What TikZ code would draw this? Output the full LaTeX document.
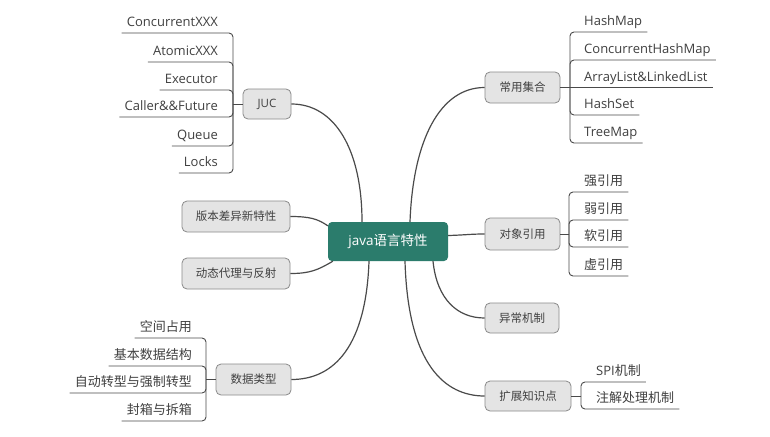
\documentclass[tikz,border=0pt]{standalone}
\usepackage{fontspec}
\setmainfont{Open Sans}
\newfontfamily\cjk{Noto Sans CJK SC}
\usetikzlibrary{calc}
\definecolor{rootfill}{HTML}{2B7C6C}
\definecolor{topicfill}{HTML}{E4E4E4}
\definecolor{topicborder}{HTML}{8A8A8A}
\definecolor{inkgray}{HTML}{404040}
\definecolor{linegray}{HTML}{4A4A4A}
\begin{document}
\begin{tikzpicture}[x=1pt,y=-1pt,
  root/.style={fill=rootfill, rounded corners=4pt, text=white,
    font=\fontsize{13.5}{15}\selectfont, minimum width=120pt, minimum height=39pt, inner sep=0pt},
  topic/.style={draw=topicborder, fill=topicfill, rounded corners=5pt, line width=0.8pt,
    text=inkgray, font=\fontsize{11.5}{13}\selectfont, inner sep=0pt, minimum height=31pt},
  leafL/.style={anchor=south east, inner xsep=5pt, inner ysep=3pt, text height=10pt,
    text depth=3pt, font=\fontsize{13}{15}\selectfont, text=inkgray},
  leafR/.style={leafL, anchor=south west},
  branch/.style={draw=linegray, line width=1.2pt},
  twig/.style={draw=linegray, line width=0.9pt, rounded corners=4pt}]

\fill[white] (0,0) rectangle (770,436);
\useasboundingbox (0,0) rectangle (770,436);

% central topic
\node[root] (c) at (388,241.5) {java{\cjk 语言特性}};

% main topics
\node[topic, minimum width=48pt, minimum height=30pt] (juc) at (267,104) {JUC};
\node[topic, minimum width=108pt] (ver) at (236,216.5) {\cjk 版本差异新特性};
\node[topic, minimum width=108pt] (dyn) at (236,273.5) {\cjk 动态代理与反射};
\node[topic, minimum width=75pt] (dt) at (253.5,379.5) {\cjk 数据类型};
\node[topic, minimum width=75pt] (col) at (522.5,87.5) {\cjk 常用集合};
\node[topic, minimum width=75pt, minimum height=32pt] (ref) at (522.5,234) {\cjk 对象引用};
\node[topic, minimum width=74pt, minimum height=30pt] (exc) at (522,318) {\cjk 异常机制};
\node[topic, minimum width=86pt, minimum height=30pt] (ext) at (528,396) {\cjk 扩展知识点};

% curved branches from the central topic
\draw[branch] ([xshift=-26pt]c.north) .. controls (362,150) and (335,104) .. (juc.east);
\draw[branch] ([yshift=-4pt]c.north west) .. controls (318,219) and (310,216.5) .. (ver.east);
\draw[branch] ([xshift=5pt]c.south west) .. controls (318,270) and (310,273.5) .. (dyn.east);
\draw[branch] ([xshift=-19pt]c.south) .. controls (366,345) and (335,379.5) .. (dt.east);
\draw[branch] ([xshift=22pt]c.north) .. controls (413,140) and (440,87.5) .. (col.west);
\draw[branch] ([yshift=6pt]c.east) .. controls (466,235) and (470,234) .. (ref.west);
\draw[branch] ([xshift=45pt]c.south) .. controls (437,300) and (458,318) .. (exc.west);
\draw[branch] ([xshift=17pt]c.south) .. controls (408,365) and (445,396) .. (ext.west);

% JUC
\coordinate (jb) at (233,104);
\draw[twig] (juc.west) -- (jb);
\node[leafL] (j1) at (223,33) {ConcurrentXXX};
\node[leafL] (j2) at (223,62) {AtomicXXX};
\node[leafL] (j3) at (223,90) {Executor};
\node[leafL] (j4) at (223,117) {Caller\&\&Future};
\node[leafL] (j5) at (223,146) {Queue};
\node[leafL] (j6) at (223,173) {Locks};
\foreach \n in {j1,j2,j3,j4,j5,j6}
  \draw[twig] (jb) -- (jb |- \n.south) -- (\n.south west);

% data types
\coordinate (db) at (206,379.5);
\draw[twig] (dt.west) -- (db);
\node[leafL] (d1) at (197,338) {\cjk 空间占用};
\node[leafL] (d2) at (197,366) {\cjk 基本数据结构};
\node[leafL] (d3) at (197,393) {\cjk 自动转型与强制转型};
\node[leafL] (d4) at (197,421) {\cjk 封箱与拆箱};
\foreach \n in {d1,d2,d3,d4}
  \draw[twig] (db) -- (db |- \n.south) -- (\n.south west);

% collections
\coordinate (cb) at (570,87.5);
\draw[twig] (col.east) -- (cb);
\node[leafR] (k1) at (579,32) {HashMap};
\node[leafR] (k2) at (579,60) {ConcurrentHashMap};
\node[leafR] (k3) at (579,87.5) {ArrayList\&LinkedList};
\node[leafR] (k4) at (579,115) {HashSet};
\node[leafR] (k5) at (579,143) {TreeMap};
\foreach \n in {k1,k2,k4,k5}
  \draw[twig] (cb) -- (cb |- \n.south) -- (\n.south east);
\draw[twig] (cb) -- (k3.south east);

% references
\coordinate (rb) at (569,234);
\draw[twig] (ref.east) -- (rb);
\node[leafR] (r1) at (579,192) {\cjk 强引用};
\node[leafR] (r2) at (579,220) {\cjk 弱引用};
\node[leafR] (r3) at (579,247) {\cjk 软引用};
\node[leafR] (r4) at (579,276) {\cjk 虚引用};
\foreach \n in {r1,r2,r3,r4}
  \draw[twig] (rb) -- (rb |- \n.south) -- (\n.south east);

% extensions
\coordinate (eb) at (581,396);
\draw[twig] (ext.east) -- (eb);
\node[leafR] (e1) at (591,382) {SPI{\cjk 机制}};
\node[leafR] (e2) at (591,409) {\cjk 注解处理机制};
\foreach \n in {e1,e2}
  \draw[twig] (eb) -- (eb |- \n.south) -- (\n.south east);
\end{tikzpicture}
\end{document}
